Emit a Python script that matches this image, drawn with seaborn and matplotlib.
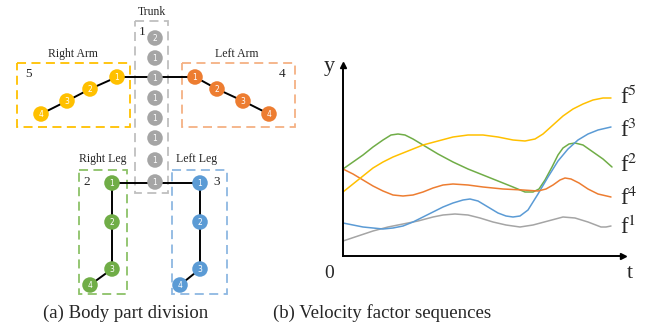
import numpy as np
import pandas as pd
import seaborn as sns
import matplotlib.pyplot as plt
from matplotlib.patches import Rectangle

sns.set_style("white")
plt.rcParams['font.family'] = ['Liberation Serif', 'DejaVu Serif']
plt.rcParams['mathtext.fontset'] = 'stix'

# ---- left panel: skeleton nodes (pixel layout of the diagram) ----
trunk_x = [155, 155, 155, 155, 155, 155, 155, 155]
trunk_y = [38, 58, 78, 98, 118, 138, 160, 182]
trunk_lbl = ['2', '1', '1', '1', '1', '1', '1', '1']

rarm_x = [117, 90, 67, 41]
rarm_y = [77, 89, 101, 114]
larm_x = [195, 217, 243, 269]
larm_y = [77, 89, 101, 114]
rleg_x = [112, 112, 112, 90]
rleg_y = [183, 222, 269, 285]
lleg_x = [200, 200, 200, 180]
lleg_y = [183, 222, 269, 285]
limb_lbl = ['1', '2', '3', '4']

# ---- right panel: velocity factor sequences ----
f1_t = [0, 15, 30, 45, 60, 75, 90, 100, 112, 125, 137, 150, 163, 177, 190, 205, 220, 232, 245, 258, 263, 268]
f1_v = [15, 20, 25, 29, 32, 35, 39, 41, 42, 41, 38, 34, 31, 29, 31, 35, 39, 38, 34, 29, 29, 30]

f2_t = [0, 10, 20, 30, 40, 48, 55, 62, 70, 80, 95, 110, 125, 140, 155, 170, 182, 190, 196, 202, 209, 215, 220, 226, 232, 240, 250, 260, 269]
f2_v = [87, 94, 101, 109, 116, 121, 122, 121, 117, 111, 102, 94, 87, 81, 75, 69, 64, 64, 67, 76, 89, 101, 108, 112, 113, 111, 104, 97, 89]

f3_t = [0, 10, 20, 30, 40, 50, 60, 70, 80, 90, 100, 110, 120, 127, 135, 145, 155, 163, 170, 177, 185, 195, 205, 215, 225, 235, 245, 255, 268]
f3_v = [33, 31, 29, 28, 27, 28, 30, 34, 39, 44, 49, 53, 56, 57, 55, 49, 43, 40, 39, 40, 46, 62, 79, 95, 107, 116, 122, 126, 129]

f4_t = [0, 10, 20, 30, 40, 50, 60, 70, 80, 90, 100, 110, 125, 140, 160, 180, 195, 203, 210, 217, 222, 228, 236, 245, 255, 268]
f4_v = [87, 82, 76, 70, 65, 61, 60, 61, 64, 68, 71, 72, 71, 69, 67, 66, 65, 67, 71, 76, 78, 77, 73, 67, 62, 59]

f5_t = [0, 10, 20, 30, 40, 50, 65, 80, 95, 110, 125, 140, 155, 170, 182, 192, 200, 210, 220, 230, 240, 250, 260, 268]
f5_v = [64, 72, 80, 88, 94, 99, 105, 111, 115, 119, 121, 121, 119, 116, 115, 117, 122, 131, 140, 147, 152, 156, 158, 158]

series_names = ['f1', 'f2', 'f3', 'f4', 'f5']
label_v = [31, 93, 128, 60, 161]

GRAY, GREEN, BLUE, ORANGE, YELLOW = '#A5A5A5', '#70AD47', '#5B9BD5', '#ED7D31', '#FFC000'

fig = plt.figure(figsize=(6.62, 3.33), dpi=100)

# full-figure axes in pixel coordinates for the diagram
ax = fig.add_axes([0, 0, 1, 1])
ax.set_xlim(0, 662)
ax.set_ylim(333, 0)
ax.axis('off')

# dashed group boxes
boxes = [
    (135, 21, 33, 172, '#BFBFBF'),
    (17, 63, 113, 64, '#FFC000'),
    (182, 63, 113, 64, '#F4B183'),
    (79, 170, 48, 124, '#8CC168'),
    (172, 170, 55, 124, '#8DB8E2'),
]
for bx, by, bw, bh, bc in boxes:
    ax.add_patch(Rectangle((bx, by), bw, bh, fill=False, ec=bc, lw=1.3,
                           ls=(0, (5, 3)), zorder=1))

# skeleton edges
ax.plot([rarm_x[0], larm_x[0]], [77, 77], color='black', lw=1.4, zorder=2)
ax.plot([rleg_x[0], lleg_x[0]], [183, 183], color='black', lw=1.4, zorder=2)
for xs, ys in [(rarm_x, rarm_y), (larm_x, larm_y), (rleg_x, rleg_y), (lleg_x, lleg_y)]:
    ax.plot(xs, ys, color='black', lw=1.4, zorder=2)

nodes = pd.concat([
    pd.DataFrame({'x': trunk_x, 'y': trunk_y, 'lbl': trunk_lbl, 'part': 'trunk'}),
    pd.DataFrame({'x': rarm_x, 'y': rarm_y, 'lbl': limb_lbl, 'part': 'rarm'}),
    pd.DataFrame({'x': larm_x, 'y': larm_y, 'lbl': limb_lbl, 'part': 'larm'}),
    pd.DataFrame({'x': rleg_x, 'y': rleg_y, 'lbl': limb_lbl, 'part': 'rleg'}),
    pd.DataFrame({'x': lleg_x, 'y': lleg_y, 'lbl': limb_lbl, 'part': 'lleg'}),
], ignore_index=True)
sns.scatterplot(data=nodes, x='x', y='y', hue='part', s=125, linewidth=0,
                palette={'trunk': GRAY, 'rarm': YELLOW, 'larm': ORANGE,
                         'rleg': GREEN, 'lleg': BLUE},
                legend=False, zorder=3, ax=ax)
for _, r in nodes.iterrows():
    ax.text(r.x, r.y + 0.5, r.lbl, color='white', fontsize=5.5,
            family='DejaVu Sans', ha='center', va='center', zorder=4)

ax.text(152, 12, 'Trunk', fontsize=8.5, ha='center', va='center')
ax.text(73, 54, 'Right Arm', fontsize=8.5, ha='center', va='center')
ax.text(237, 54, 'Left Arm', fontsize=8.5, ha='center', va='center')
ax.text(103, 159, 'Right Leg', fontsize=8.5, ha='center', va='center')
ax.text(197, 159, 'Left Leg', fontsize=8.5, ha='center', va='center')
ax.text(142, 32, '1', fontsize=9.5, ha='center', va='center')
ax.text(29, 74, '5', fontsize=9.5, ha='center', va='center')
ax.text(282, 74, '4', fontsize=9.5, ha='center', va='center')
ax.text(87, 182, '2', fontsize=9.5, ha='center', va='center')
ax.text(217, 182, '3', fontsize=9.5, ha='center', va='center')

ax.text(126, 313, '(a) Body part division', fontsize=13.5, ha='center', va='center')
ax.text(382, 313, '(b) Velocity factor sequences', fontsize=13.5, ha='center', va='center')

# right panel axes
ax2 = fig.add_axes([343 / 662, (333 - 256) / 333, 280 / 662, 191 / 333])
ax2.patch.set_alpha(0)
curves = pd.concat([
    pd.DataFrame({'t': f1_t, 'v': f1_v, 'series': 'f1'}),
    pd.DataFrame({'t': f2_t, 'v': f2_v, 'series': 'f2'}),
    pd.DataFrame({'t': f3_t, 'v': f3_v, 'series': 'f3'}),
    pd.DataFrame({'t': f4_t, 'v': f4_v, 'series': 'f4'}),
    pd.DataFrame({'t': f5_t, 'v': f5_v, 'series': 'f5'}),
], ignore_index=True)
pal = {'f1': GRAY, 'f2': GREEN, 'f3': BLUE, 'f4': ORANGE, 'f5': YELLOW}
sns.lineplot(data=curves, x='t', y='v', hue='series', palette=pal,
             legend=False, lw=1.1, ax=ax2)
ax2.set_xlim(0, 280)
ax2.set_ylim(0, 191)
ax2.set_xticks([])
ax2.set_yticks([])
ax2.set_xlabel('')
ax2.set_ylabel('')
for s in ['top', 'right']:
    ax2.spines[s].set_visible(False)
for s in ['left', 'bottom']:
    ax2.spines[s].set_color('black')
    ax2.spines[s].set_linewidth(1.4)
ax2.plot(1, 0, '>', color='black', ms=4, transform=ax2.transAxes, clip_on=False)
ax2.plot(0, 1, '^', color='black', ms=4, transform=ax2.transAxes, clip_on=False)

for name, v in zip(series_names, label_v):
    ax2.text(277, v - 2, 'f$^{%s}$' % name[1], fontsize=16.5, ha='left', va='center',
             clip_on=False)
ax2.text(-14, 189, 'y', fontsize=16, ha='center', va='center', clip_on=False)
ax2.text(-14, -17, '0', fontsize=14, ha='center', va='center', clip_on=False)
ax2.text(287, -17, 't', fontsize=16, ha='center', va='center', clip_on=False)

fig.savefig('out.png', dpi=100)
